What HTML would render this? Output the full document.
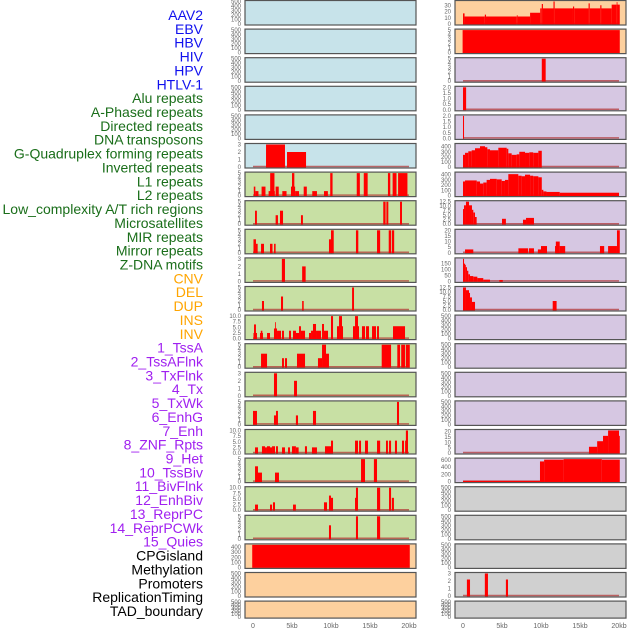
<!DOCTYPE html>
<html><head><meta charset="utf-8">
<style>
html,body{margin:0;padding:0;background:#fff;}
#wrap{position:relative;width:630px;height:630px;overflow:hidden;}
svg{position:absolute;left:0;top:0;}
text{font-family:"Liberation Sans",sans-serif;}
</style></head>
<body>
<div id="wrap">
<svg id="chart" width="630" height="630"></svg>
</div>
<script>
const labels = ["AAV2","EBV","HBV","HIV","HPV","HTLV-1","Alu repeats","A-Phased repeats","Directed repeats","DNA transposons","G-Quadruplex forming repeats","Inverted repeats","L1 repeats","L2 repeats","Low_complexity A/T rich regions","Microsatellites","MIR repeats","Mirror repeats","Z-DNA motifs","CNV","DEL","DUP","INS","INV","1_TssA","2_TssAFlnk","3_TxFlnk","4_Tx","5_TxWk","6_EnhG","7_Enh","8_ZNF_Rpts","9_Het","10_TssBiv","11_BivFlnk","12_EnhBiv","13_ReprPC","14_ReprPCWk","15_Quies","CPGisland","Methylation","Promoters","ReplicationTiming","TAD_boundary"];
const labelGroups = [6,13,5,15,5];
const groupColors = ["#1010ee","#1a6e1a","#ffa500","#a020f0","#000000"];
const xTickLabels = ["0","5kb","10kb","15kb","20kb"];
const xTickValues = [0,5,10,15,20];

const T500=[0,100,200,300,400,500], T5=[0,1,2,3,4,5], T3=[0,1,2,3], T10=[0,2.5,5,7.5,10], T2=[0,0.5,1,1.5,2], T400=[0,100,200,300,400];
// left column panels (rows 0..21), then right column panels (rows 0..21)
const panelBg = ["b","b","b","b","b","b","g","g","g","g","g","g","g","g","g","g","g","g","g","p","p","p",
                 "p","p","l","l","l","l","l","l","l","l","l","l","l","l","l","l","l","y","y","y","y","y"];
const panelTicks = [T500,T500,T500,T500,T500,T3,T5,T5,T5,T3,T5,T10,T5,T3,T5,T10,T5,T10,T5,T400,T500,T500,
  [0,10,20,30],T5,T5,T2,T2,T400,T400,[0,2.5,5,7.5,10,12.5],[0,5,10,15,20],[0,50,100,150],[0,2.5,5,7.5,10,12.5],T500,T500,T500,T500,[0,5,10,15,20],[0,200,400,600],T500,T500,T500,T3,T500];
const panelMax = [500,500,500,500,500,3,5,5,5,3,5,10,5,3,5,10,5,10,5,444,500,500,
  36,5,5,2,2,444,430,12.5,20,190,12.5,500,500,500,500,21,625,500,500,500,3,500];
const panelBars = [
 [],[],[],[],[],
 [[1.67,4.1,3],[4.36,6.8,2]],
 [[0.1,0.3,2],[0.3,0.7,1],[1.1,1.6,2],[2.0,2.8,1],[2.2,2.75,5],[2.9,3.3,2],[3.76,4.3,1],[4.87,5.4,2],[5.0,5.3,5],[5.4,5.9,1],[6.5,6.9,2],[7.6,8.2,1],[9.1,9.6,1],[9.9,10.2,5],[13.3,13.7,5],[14.2,14.7,5],[17.3,17.6,5],[17.9,18.4,5],[18.6,19.8,5]],
 [[0.26,0.5,3],[2.9,3.2,2],[3.46,3.85,3],[6.15,6.4,2],[16.7,17.0,5],[17.1,17.35,5],[18.85,19.1,5]],
 [[0.06,0.38,3],[0.38,0.6,2],[1.03,1.41,2],[2.18,2.5,2],[2.7,2.9,2],[9.74,10.1,3],[10.0,10.35,5],[13.2,13.5,5],[15.9,16.3,5],[17.4,17.7,5],[17.8,18.1,5]],
 [[3.7,4.1,3],[6.3,6.75,2]],
 [[1.15,1.41,2],[3.59,3.85,3],[6.3,6.5,2],[12.7,12.95,5]],
 [[0.06,0.51,2.5],[0.13,0.38,6.3],[0.9,1.28,2.5],[1.0,1.2,3.5],[1.8,2.18,2.5],[2.69,3.08,4.5],[2.82,2.9,7.3],[3.08,3.59,3.5],[3.72,3.97,3.5],[4.62,4.87,3.5],[5.13,5.51,3.5],[5.51,5.9,2.5],[5.9,6.15,5.5],[6.15,6.67,3.5],[7.18,7.44,2.5],[7.44,7.69,3.5],[7.69,8.08,6.5],[8.08,8.72,3.5],[8.85,9.1,6.5],[9.1,9.62,3.5],[10.0,10.26,10],[10.77,11.03,5.5],[11.03,11.41,10],[11.15,11.54,5.5],[12.82,13.08,5.5],[13.08,13.46,10],[13.33,13.59,5.5],[13.97,14.36,5.5],[14.49,14.87,5.5],[15.26,15.77,5.5],[15.9,16.15,5.5],[17.95,19.49,5.5]],
 [[1.03,1.8,3],[3.72,3.97,2],[4.1,4.36,2],[5.64,6.67,3],[8.33,8.85,2],[8.85,9.36,5],[9.36,9.74,3],[16.5,17.7,5],[18.5,18.85,5],[19.0,19.5,5],[19.6,20.1,5]],
 [[2.69,3.08,3],[5.26,5.64,2]],
 [[0.0,0.51,3],[2.69,2.95,2],[2.95,3.2,3],[5.5,5.77,2],[7.69,8.08,3],[18.46,18.72,5]],
 [[0.26,0.64,2.5],[1.15,1.54,3],[1.54,1.79,2.5],[1.79,2.18,3],[2.18,2.44,2.5],[2.44,2.82,3],[2.95,3.2,3],[3.72,4.1,2.5],[4.49,4.74,2.5],[5.0,5.5,3],[5.5,5.85,2.5],[6.66,6.92,3],[7.56,8.2,2.5],[9.23,10.0,3],[10.0,10.26,5.5],[13.08,13.46,5.5],[13.6,13.85,5.5],[14.36,14.74,5.5],[15.9,16.3,5.5],[17.05,17.3,5.5],[17.44,17.7,5.5],[18.2,18.46,5.5],[19.1,19.36,5.5],[19.5,19.74,5.5],[19.6,19.87,10]],
 [[0.26,0.64,3.4],[0.64,1.15,2],[2.82,3.33,2],[13.85,14.36,5],[15.5,15.9,5]],
 [[0.26,0.64,2.5],[2.18,2.44,2.5],[2.56,2.82,3.5],[5.13,5.5,2.5],[9.1,9.49,3.5],[9.74,10.0,6.5],[10.0,10.26,5.5],[13.08,13.33,5.5],[13.2,13.46,10],[15.9,16.3,10],[17.44,17.7,10],[17.8,18.07,5.5]],
 [[9.74,10.0,3],[13.2,13.46,5],[15.9,16.3,5]],
 [[-0.1,20.1,444]],
 [],[],
 // right column
 [[0,0.2,17],[0.2,2.8,12],[2.8,2.95,15],[2.95,6.9,12],[6.9,7.0,14],[7.0,8.6,12],[8.6,9.9,18],[9.9,10.1,25],[10.1,10.25,32],[10.25,11.6,25],[11.6,11.75,36],[11.75,14.1,25],[14.1,14.25,28],[14.25,16.1,25],[16.1,16.25,33],[16.25,17.6,25],[17.6,17.75,30],[17.75,19.06,25],[19.06,19.7,31],[19.7,19.8,35],[19.8,20.1,31]],
 [[-0.05,20.1,5]],
 [[10.1,10.6,5]],
 [[0,0.4,2]],
 [[0,0.13,2]],
 [[0,0.26,240],[0.26,0.68,280],[0.68,1.11,310],[1.11,1.54,330],[1.54,2.18,370],[2.18,2.82,410],[2.82,3.12,390],[3.12,3.46,350],[3.46,4.53,330],[4.53,5.6,380],[5.6,5.81,360],[5.81,6.24,270],[6.24,6.88,240],[6.88,7.22,250],[7.22,7.95,300],[7.95,8.5,280],[8.5,9.0,290],[9.0,9.66,280],[9.66,10.1,320]],
 [[0,0.26,270],[0.26,1.76,290],[1.76,2.18,270],[2.18,2.6,230],[2.6,3.03,250],[3.03,3.46,300],[3.46,4.32,320],[4.32,4.96,310],[4.96,5.38,280],[5.38,5.81,300],[5.81,7.09,410],[7.09,7.52,380],[7.52,7.95,370],[7.95,8.6,400],[8.6,9.0,380],[9.0,9.66,370],[9.66,10.1,350],[10.1,10.3,110],[10.3,10.7,80],[10.7,12.4,70],[12.4,20.0,55]],
 [[0,0.13,8.4],[0.13,0.38,10.5],[0.38,0.77,12.5],[0.77,1.15,10.5],[1.15,1.32,8],[1.32,1.54,6.5],[1.54,1.75,4],[5.0,5.5,3],[7.69,8.08,2.5],[8.08,9.1,3.5]],
 [[0.26,1.32,3],[7.1,8.35,4],[8.46,9.1,4],[9.6,10.0,3],[10.0,10.77,6],[11.8,12.4,6],[11.9,12.4,10],[12.4,13.1,6],[17.56,18.1,6],[18.6,19.74,6],[19.74,20.1,20]],
 [[0,0.13,190],[0.13,0.26,150],[0.26,0.34,140],[0.34,0.51,120],[0.51,0.68,90],[0.68,0.9,60],[0.9,1.32,45],[1.32,1.84,40],[1.84,2.6,28],[2.6,3.46,15],[4.66,5.1,12]],
 [[0,0.38,12.5],[0.38,0.77,11],[0.77,0.9,9.5],[0.9,1.15,7],[1.15,1.54,4.5],[11.5,12.0,5]],
 [],[],[],[],
 [[16.15,17.2,5.8],[17.2,17.95,11],[17.95,18.6,16],[18.6,20.0,21],[20.0,20.1,16]],
 [[0,9.87,20],[9.87,10.4,560],[10.4,12.9,610],[12.9,17.8,625],[17.8,20.1,610]],
 [],[],[],
 [[0.5,0.9,2.2],[2.8,3.2,3],[5.5,5.77,2.2]],
 []
];

const bgColors = {b:"#c7e3ea", g:"#c8e0a4", p:"#fdd09e", l:"#d6c7e2", y:"#d0d0d0"};
const NS = "http://www.w3.org/2000/svg";
const svg = document.getElementById("chart");
function mk(tag, attrs){ const e=document.createElementNS(NS,tag); for(const k in attrs) e.setAttribute(k,attrs[k]); return e; }

// labels
let li=0;
labelGroups.forEach((n,g)=>{ for(let j=0;j<n;j++,li++){
  const t=mk("text",{x:203,y:15+li*13.86+5,"text-anchor":"end","font-size":"14",fill:groupColors[g]});
  
  
  t.textContent=labels[li]; svg.appendChild(t);
}});

const colX=[245,455], panelW=171, x0Off=8, kbPx=7.8;
function xScale(col,kb){ return colX[col]+x0Off+kb*kbPx; }
function rowTop(r){ return r*28.6; }
function rowH(r){ return r===21?17:24.5; }

for(let p=0;p<44;p++){
  const col=p<22?0:1, r=p%22;
  const top=rowTop(r), h=rowH(r), left=colX[col];
  const g=mk("g",{});
  
  
  svg.appendChild(g);
  const rect=mk("rect",{x:left,y:top+0.5,width:panelW,height:h,fill:bgColors[panelBg[p]],stroke:"none"});
  
  
  g.appendChild(rect);
  const y0=top+h-0.5, y1=top+1.5;
  const yScale=v=>y0-(v/panelMax[p])*(y0-y1);
  const bars=panelBars[p];
  if(bars.length && !(bars.length===1 && bars[0][1]-bars[0][0]>19)){
    const bl=mk("line",{x1:xScale(col,0),x2:xScale(col,20),y1:y0-0.5,y2:y0-0.5,stroke:"#b03030","stroke-opacity":"0.7","stroke-width":"1.5"});
    
    
    g.appendChild(bl);
  }
  bars.forEach(b=>{
    const xa=Math.max(left+1,xScale(col,b[0])), xb=Math.min(left+panelW-1,xScale(col,b[1]));
    const ya=Math.max(top+0.5,yScale(b[2]));
    const br=mk("rect",{x:xa,y:ya,width:Math.max(0.8,xb-xa),height:Math.max(0,y0+0.5-ya),fill:"#ff0000"});
    
    
    g.appendChild(br);
  });
  const bd=mk("rect",{x:left,y:top+0.5,width:panelW,height:h,fill:"none",stroke:"#555","stroke-width":"1.2"});
  
  
  g.appendChild(bd);
  panelTicks[p].forEach(v=>{
    const t=mk("text",{x:left-4,y:yScale(v)+2,"text-anchor":"end","font-size":"6",fill:"#666"});
    
    
    t.textContent=(panelTicks[p].some(x=>x%1!==0))?v.toFixed(1):String(v);
    g.appendChild(t);
  });
}
// x axes
for(let c=0;c<2;c++){
  xTickValues.forEach((v,i)=>{
    const t=mk("text",{x:xScale(c,v),y:628,"text-anchor":"middle","font-size":"7",fill:"#666"});
    
    
    t.textContent=xTickLabels[i]; svg.appendChild(t);
  });
}
</script>
</body></html>
